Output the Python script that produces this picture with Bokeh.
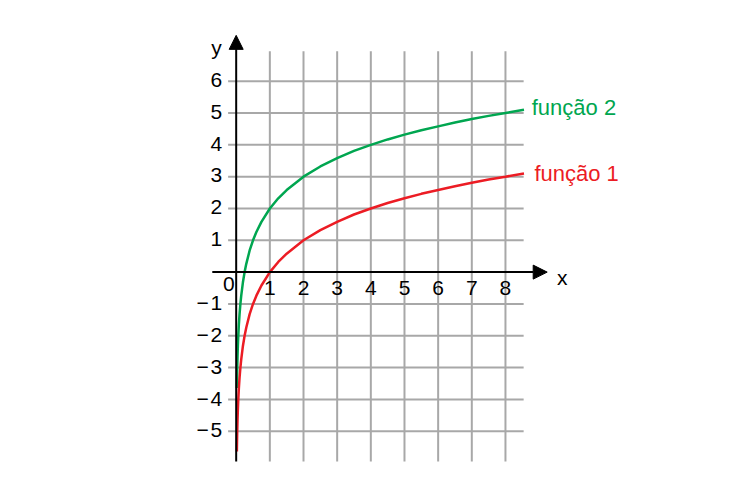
from bokeh.plotting import figure
from bokeh.models import Arrow, NormalHead, Range1d
from bokeh.core.properties import value
from bokeh.embed import file_html
from bokeh.resources import INLINE

# ---- data ----
x_ticks = [1, 2, 3, 4, 5, 6, 7, 8]
x_tick_labels = ["1", "2", "3", "4", "5", "6", "7", "8"]
y_ticks = [6, 5, 4, 3, 2, 1, -1, -2, -3, -4, -5]
y_tick_labels = ["6", "5", "4", "3", "2", "1",
                 "−\u200a1", "−\u200a2", "−\u200a3", "−\u200a4", "−\u200a5"]

curve_x = [0.02, 0.025, 0.03, 0.04, 0.05, 0.06, 0.08, 0.1, 0.125, 0.15, 0.2, 0.25,
           0.3, 0.4, 0.5, 0.6, 0.75, 1, 1.25, 1.5, 2, 2.5, 3, 3.5, 4, 4.5, 5,
           5.5, 6, 6.5, 7, 7.5, 8, 8.55]
funcao1_y = [-5.64, -5.32, -5.06, -4.64, -4.32, -4.06, -3.64, -3.32, -3.0, -2.74,
             -2.32, -2.0, -1.74, -1.32, -1.0, -0.74, -0.42, 0.0, 0.32, 0.58, 1.0,
             1.32, 1.58, 1.81, 2.0, 2.17, 2.32, 2.46, 2.58, 2.70, 2.81, 2.91, 3.0, 3.10]
funcao2_y = [-3.64, -3.32, -3.06, -2.64, -2.32, -2.06, -1.64, -1.32, -1.0, -0.74,
             -0.32, 0.0, 0.26, 0.68, 1.0, 1.26, 1.58, 2.0, 2.32, 2.58, 3.0,
             3.32, 3.58, 3.81, 4.0, 4.17, 4.32, 4.46, 4.58, 4.70, 4.81, 4.91, 5.0, 5.10]
series_labels = ["função 1", "função 2"]

RED = "#ec1c24"
GREEN = "#00a650"
GRID = "#a8a8a8"
FONT = "Liberation Sans"

p = figure(width=732, height=473, output_backend="svg", toolbar_location=None,
           x_range=Range1d(-7.002, 14.745), y_range=Range1d(-6.329, 8.536),
           x_axis_type=None, y_axis_type=None, min_border=0)
p.outline_line_color = None
p.grid.visible = False
p.background_fill_color = "white"

# grid
p.segment(x0=x_ticks, y0=[-5.95] * len(x_ticks), x1=x_ticks, y1=[6.94] * len(x_ticks),
          line_color=GRID, line_width=2)
p.segment(x0=[-0.24] * len(y_ticks), y0=y_ticks, x1=[8.54] * len(y_ticks), y1=y_ticks,
          line_color=GRID, line_width=2)

# axes with arrows
p.add_layout(Arrow(x_start=-0.71, y_start=0, x_end=9.24, y_end=0, line_width=2,
                   line_color="black",
                   end=NormalHead(size=14, fill_color="black", line_color="black")))
p.add_layout(Arrow(x_start=0, y_start=-5.95, x_end=0, y_end=7.44, line_width=2,
                   line_color="black",
                   end=NormalHead(size=14, fill_color="black", line_color="black")))

# curves
p.line(curve_x, funcao2_y, line_color=GREEN, line_width=2.5)
p.line(curve_x, funcao1_y, line_color=RED, line_width=2.5)

# tick labels
p.text(x=x_ticks, y=[-0.5] * len(x_ticks), text=x_tick_labels, text_font=value(FONT),
       text_font_size="21px", text_align="center", text_baseline="middle", text_color="black")
p.text(x=[-0.416] * len(y_ticks), y=[v + 0.04 for v in y_ticks], text=y_tick_labels,
       text_font=value(FONT), text_font_size="21px", text_align="right",
       text_baseline="middle", text_color="black")
p.text(x=[-0.22], y=[-0.38], text=["0"], text_font=value(FONT), text_font_size="21px",
       text_align="center", text_baseline="middle", text_color="black")

# axis names
p.text(x=[-0.585], y=[7.06], text=["y"], text_font=value(FONT), text_font_size="21px",
       text_align="center", text_baseline="alphabetic", text_color="black")
p.text(x=[9.69], y=[-0.16], text=["x"], text_font=value(FONT), text_font_size="21px",
       text_align="center", text_baseline="alphabetic", text_color="black")

# series labels
p.text(x=[8.86], y=[3.1], text=[series_labels[0]], text_font=value(FONT),
       text_font_size="22px", text_align="left", text_baseline="alphabetic", text_color=RED)
p.text(x=[8.78], y=[5.17], text=[series_labels[1]], text_font=value(FONT),
       text_font_size="22px", text_align="left", text_baseline="alphabetic", text_color=GREEN)

open("out.html", "w").write(file_html(p, INLINE))
